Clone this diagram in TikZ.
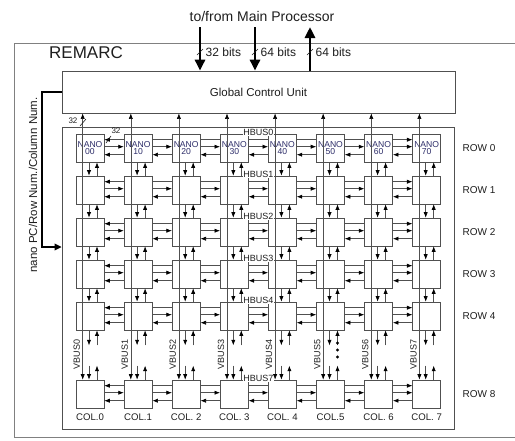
\documentclass[tikz,border=0pt]{standalone}
\usepackage{fontspec}
\setmainfont{Liberation Sans}
\usetikzlibrary{arrows.meta,calc}
\definecolor{ln}{RGB}{80,80,80}
\definecolor{txt}{RGB}{30,30,30}
\definecolor{nanotxt}{RGB}{45,45,105}
\begin{document}
\begin{tikzpicture}[x=1pt,y=-1pt,
  lnst/.style={draw=ln, line width=0.6pt},
  sarr/.style={lnst, -{Latex[length=5.5pt,width=4.2pt,fill=black,color=black]}},
  hbL/.style={lnst, {Latex[length=5.5pt,width=4.2pt,fill=black,color=black]}-},
  hbM/.style={lnst},
  hbR/.style={lnst, -{Latex[length=5.5pt,width=4.2pt,fill=black,color=black]}},
  vbus/.style={lnst, {Latex[length=5.5pt,width=4.2pt,fill=black,color=black]}-{Latex[length=5.5pt,width=4.2pt,fill=black,color=black]}},
  cellbox/.style={draw=ln, line width=0.6pt, minimum width=28pt, minimum height=28pt, inner sep=0pt, fill=white},
  nanofont/.style={font=\fontsize{8.6}{5}\selectfont, text=nanotxt, align=center},
  thickarr/.style={draw=black, line width=2.8pt, -{Triangle[length=11pt,width=10pt]}},
  fbarr/.style={draw=black, line width=1.8pt, -{Triangle[length=7pt,width=6.5pt]}},
  tick/.style={draw=txt, line width=0.6pt},
  lab/.style={text=txt, inner sep=0.5pt},
  hbl/.style={lab, fill=white, font=\fontsize{9}{10}\selectfont},
  vbl/.style={lab, rotate=90, font=\fontsize{9}{10}\selectfont},
]
\useasboundingbox (0,0) rectangle (515,440);

% outer REMARC frame
\draw[draw=gray, line width=0.9pt] (516,43) -- (14,43) -- (14,437) -- (516,437);
\node[lab, font=\fontsize{17}{19}\selectfont] (remarc) at (86,53) {REMARC};

% title and processor links
\node[lab, font=\fontsize{14}{16}\selectfont] (title) at (262,16) {to/from Main Processor};

% global control unit
\node[draw=ln, line width=0.7pt, minimum width=393pt, minimum height=42pt, inner sep=0pt,
      font=\fontsize{11.5}{13}\selectfont, text=txt] (gcu) at (258.5,92) {Global Control Unit};

\coordinate (a1) at (200,27);
\coordinate (a2) at (255,27);
\coordinate (a3) at (310,27);
\draw[thickarr] (a1) -- (a1 |- gcu.north);
\draw[thickarr] (a2) -- (a2 |- gcu.north);
\draw[thickarr] (a3 |- gcu.north) -- (a3);
\draw[tick] (197,55) -- (203,49);
\draw[tick] (252,55) -- (258,49);
\draw[tick] (307,55) -- (313,49);
\node[lab, anchor=west, font=\fontsize{12}{14}\selectfont] (b1) at (205,52) {32 bits};
\node[lab, anchor=west, font=\fontsize{12}{14}\selectfont] (b2) at (260,52) {64 bits};
\node[lab, anchor=west, font=\fontsize{12}{14}\selectfont] (b3) at (315,52) {64 bits};

% array frame
\node[draw=ln, line width=0.7pt, minimum width=392pt, minimum height=302pt, inner sep=0pt] (array) at (258,278) {};

% feedback path
\coordinate (fb) at (42,247);
\draw[fbarr] (gcu.west) -| (fb) -- (fb -| array.west);
\node[lab, rotate=90, font=\fontsize{11.5}{13}\selectfont] (fbl) at (33,185) {nano PC/Row Num./Column Num.};

% cells
\foreach \c in {0,...,7} {
  \pgfmathsetmacro\cx{90+48.1*\c}
  \node[cellbox, nanofont] (c-0-\c) at (\cx,148) {NANO\\\c0};
  \foreach \r/\t in {1/176,2/218,3/260,4/302,8/380} {
    \node[cellbox] (c-\r-\c) at (\cx,\t+14) {};
  }
}

% horizontal links
\foreach \r in {0,1,2,3,4,8} {
  \foreach \c/\n/\s in {0/1/hbL,1/2/hbM,2/3/hbM,3/4/hbM,4/5/hbM,5/6/hbM,6/7/hbR} {
    \draw[\s] ($(c-\r-\c.north east)+(0,6)$) -- ($(c-\r-\n.north west)+(0,6)$);
    \draw[sarr] ($(c-\r-\c.north east)+(0,13)$) -- ($(c-\r-\n.north west)+(0,13)$);
    \draw[sarr] ($(c-\r-\n.north west)+(0,21)$) -- ($(c-\r-\c.north east)+(0,21)$);
  }
}

% HBUS labels
\foreach \r/\k in {0/0,1/1,2/2,3/3,4/4,8/7} {
  \draw[lnst] ($(c-\r-3.north east)+(0,-1)$) -- ($(c-\r-4.north west)+(0,-1)$);
  \node[hbl] (hb-\r) at ($(c-\r-3.north east)!0.5!(c-\r-4.north west)+(0,-1)$) {HBUS\k};
}

% vertical buses
\foreach \c in {0,...,7} {
  \coordinate (vb\c) at ($(c-0-\c.north west)+(7,0)$);
  \draw[vbus] (vb\c |- gcu.south) -- (vb\c |- c-8-\c.north);
  \foreach \r/\n in {0/1,1/2,2/3,3/4} {
    \draw[sarr] ($(c-\r-\c.south)+(-1,0)$) -- ($(c-\n-\c.north)+(-1,0)$);
    \draw[sarr] ($(c-\n-\c.north)+(7,0)$) -- ($(c-\r-\c.south)+(7,0)$);
  }
  \draw[sarr] ($(c-4-\c.south)+(-1,0)$) -- ($(c-4-\c.south)+(-1,15)$);
  \draw[sarr] ($(c-4-\c.south)+(7,15)$) -- ($(c-4-\c.south)+(7,0)$);
  \draw[sarr] ($(c-8-\c.north)+(-1,-14)$) -- ($(c-8-\c.north)+(-1,0)$);
  \draw[sarr] ($(c-8-\c.north)+(7,0)$) -- ($(c-8-\c.north)+(7,-14)$);
  \node[vbl] (vl-\c) at ($(vb\c)+(-6,221)$) {VBUS\c};
}

% dots in column 5
\foreach \yy [count=\i] in {343,350,357} {
  \fill[black] (337.5,\yy) circle (1.7pt);
}

% width marks near NANO 00
\node[lab, font=\fontsize{8}{9}\selectfont] (w1) at (73,121) {32};
\draw[tick] (80,126) -- (86,119);
\node[lab, font=\fontsize{8}{9}\selectfont] (w2) at (116,131) {32};
\draw[tick] (106,143) -- (111,136);

% row labels
\foreach \r/\t in {0/134,1/176,2/218,3/260,4/302,8/380} {
  \node[lab, anchor=west, font=\fontsize{10}{12}\selectfont] (rl-\r) at (462,\t+14) {ROW \r};
}

% column labels
\foreach \c/\txt in {0/COL.0,1/COL.1,2/COL. 2,3/COL. 3,4/COL. 4,5/COL.5,6/COL. 6,7/COL. 7} {
  \node[lab, font=\fontsize{9.6}{11}\selectfont] (cl-\c) at ($(c-8-\c.south)+(0,9)$) {\txt};
}
\end{tikzpicture}
\end{document}
